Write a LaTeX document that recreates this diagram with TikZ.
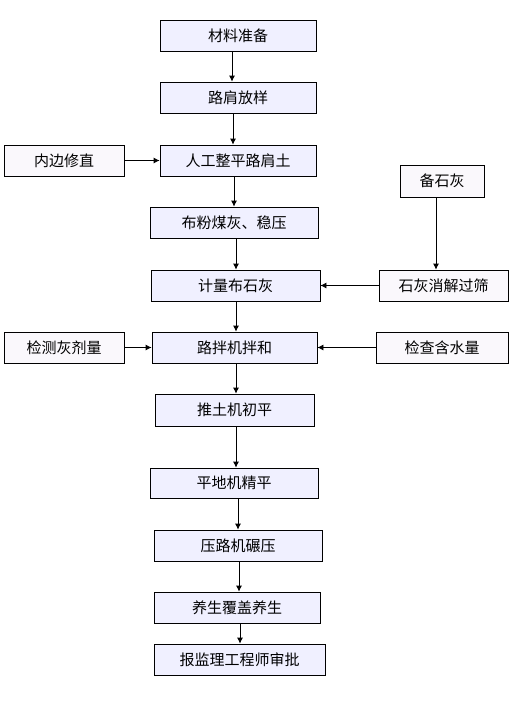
\documentclass[tikz,border=0pt]{standalone}
\usepackage{fontspec}
\setmainfont{Noto Sans CJK SC}
\usetikzlibrary{arrows.meta}
\definecolor{mainfill}{HTML}{F0F0FF}
\definecolor{sidefill}{HTML}{FAF8FC}
\begin{document}
\begin{tikzpicture}[x=1pt,y=-1pt,
  mainbox/.style={draw=black,line width=0.8pt,fill=mainfill,minimum height=31pt,inner sep=0pt,font=\fontsize{15}{15}\selectfont},
  sidebox/.style={mainbox,fill=sidefill},
  arr/.style={line width=0.8pt,-{Latex[length=6pt,width=6pt]}}]
\useasboundingbox[fill=white] (0,0) rectangle (515,712);
\node[mainbox,minimum width=156pt] (n1) at (238,35.5) {材料准备};
\node[mainbox,minimum width=156pt] (n2) at (238,97.5) {路肩放样};
\node[mainbox,minimum width=156pt] (n3) at (238,160.5) {人工整平路肩土};
\node[sidebox,minimum width=120pt] (l1) at (64,160.5) {内边修直};
\node[mainbox,minimum width=168pt] (n4) at (234,222.5) {布粉煤灰、稳压};
\node[sidebox,minimum width=84pt,minimum height=32pt] (b) at (442,181) {备石灰};
\node[mainbox,minimum width=169pt] (n5) at (235.5,285.5) {计量布石灰};
\node[sidebox,minimum width=129pt] (s) at (443.5,285.5) {石灰消解过筛};
\node[mainbox,minimum width=165pt] (n6) at (234.5,347.5) {路拌机拌和};
\node[sidebox,minimum width=120pt] (l2) at (64,347.5) {检测灰剂量};
\node[sidebox,minimum width=132pt] (r2) at (442,347.5) {检查含水量};
\node[mainbox,minimum width=159pt,minimum height=32pt] (n7) at (234.5,410) {推土机初平};
\node[mainbox,minimum width=168pt,minimum height=30pt] (n8) at (234,483) {平地机精平};
\node[mainbox,minimum width=168pt] (n9) at (238,545.5) {压路机碾压};
\node[mainbox,minimum width=166pt] (n10) at (237,607.5) {养生覆盖养生};
\node[mainbox,minimum width=171pt] (n11) at (239.5,659.5) {报监理工程师审批};
\draw[arr] ([xshift=-6pt]n1.south) -- ([xshift=-6pt]n1.south |- n2.north);
\draw[arr] ([xshift=-5pt]n2.south) -- ([xshift=-5pt]n2.south |- n3.north);
\draw[arr] ([xshift=-4pt]n3.south) -- ([xshift=-4pt]n3.south |- n4.north);
\draw[arr] ([xshift=2pt]n4.south) -- ([xshift=2pt]n4.south |- n5.north);
\draw[arr] ([xshift=0.5pt]n5.south) -- ([xshift=0.5pt]n5.south |- n6.north);
\draw[arr] ([xshift=1.5pt]n6.south) -- ([xshift=1.5pt]n6.south |- n7.north);
\draw[arr] ([xshift=1.5pt]n7.south) -- ([xshift=1.5pt]n7.south |- n8.north);
\draw[arr] ([xshift=4pt]n8.south) -- ([xshift=4pt]n8.south |- n9.north);
\draw[arr] ([xshift=1pt]n9.south) -- ([xshift=1pt]n9.south |- n10.north);
\draw[arr] ([xshift=3pt]n10.south) -- ([xshift=3pt]n10.south |- n11.north);
\draw[arr] (l1.east) -- (n3.west);
\draw[arr] ([xshift=-6pt]b.south) -- ([xshift=-6pt]b.south |- s.north);
\draw[arr] (s.west) -- (n5.east);
\draw[arr] (l2.east) -- (n6.west);
\draw[arr] (r2.west) -- (n6.east);
\end{tikzpicture}
\end{document}
